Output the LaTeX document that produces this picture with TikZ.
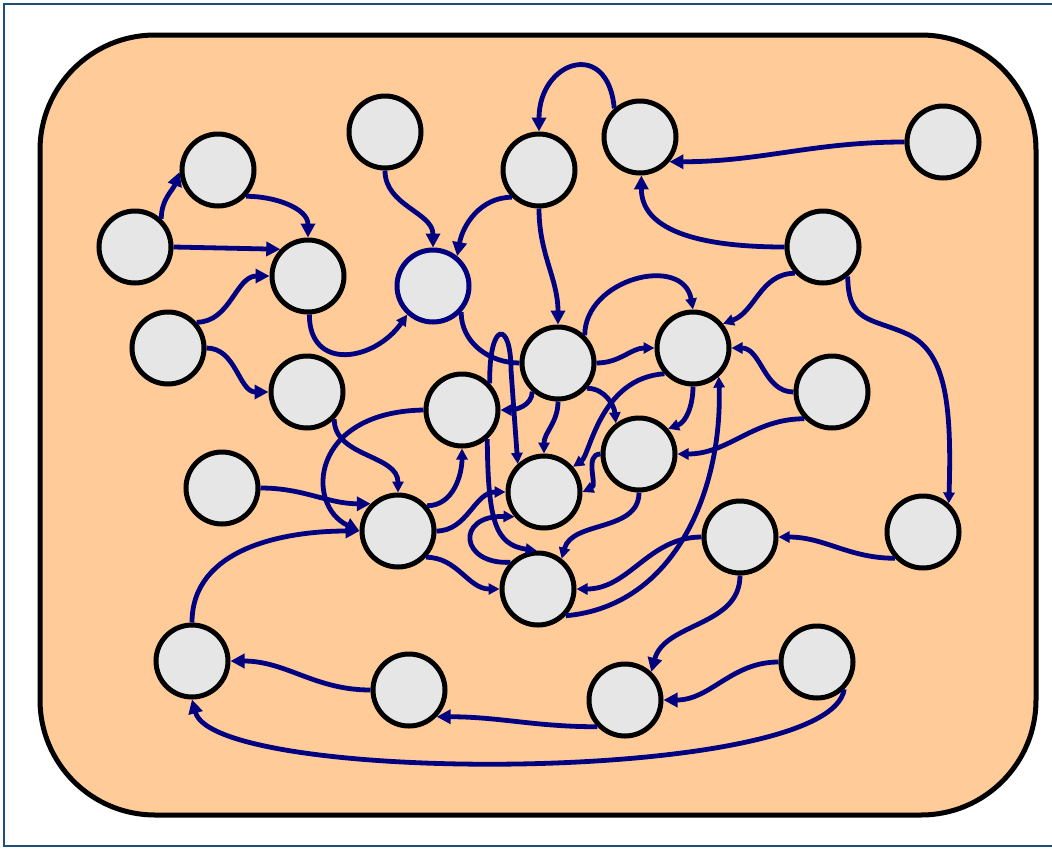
\documentclass[tikz,border=0pt]{standalone}
\usetikzlibrary{arrows.meta}
\definecolor{frameblue}{HTML}{1F4E79}
\definecolor{peach}{HTML}{FFCC99}
\definecolor{vgray}{HTML}{E6E6E6}
\definecolor{linknavy}{HTML}{000080}
\begin{document}
\begin{tikzpicture}[x=1pt,y=-1pt,
  vtx/.style={circle,draw=black,fill=vgray,line width=5pt,minimum size=72pt,inner sep=0pt},
  hub/.style={vtx,draw=linknavy},
  link/.style={draw=linknavy,line width=4.8pt},
  big/.style={link,-{Triangle[length=14pt,width=14pt]}},
  small/.style={link,-{Triangle[length=11pt,width=11pt]}}]
\useasboundingbox (0,0) rectangle (1052,849);
% outer frame and rounded panel
\draw[frameblue,line width=2.5pt] (4,4) rectangle (1070,846);
\draw[fill=peach,line width=5pt,rounded corners=115pt] (40,35) rectangle (1036,815);

% vertices
\node[vtx] (A) at (135,247) {};
\node[vtx] (B) at (218,170) {};
\node[vtx] (C) at (385,132) {};
\node[vtx] (D) at (539,170) {};
\node[vtx] (E) at (640,137) {};
\node[vtx] (F) at (943,142) {};
\node[vtx] (G) at (308,276) {};
\node[hub] (H) at (433,286) {};
\node[vtx] (I) at (168,348) {};
\node[vtx] (J) at (823,247) {};
\node[vtx] (K) at (558,363) {};
\node[vtx] (L) at (693,348) {};
\node[vtx] (M) at (307,392) {};
\node[vtx] (N) at (462,410) {};
\node[vtx] (O) at (832,392) {};
\node[vtx] (P) at (639,454) {};
\node[vtx] (Q) at (222,488) {};
\node[vtx] (R) at (544,492) {};
\node[vtx] (S) at (398,531) {};
\node[vtx] (T) at (740,537) {};
\node[vtx] (U) at (923,532) {};
\node[vtx] (V) at (538,589) {};
\node[vtx] (W) at (192,661) {};
\node[vtx] (X) at (409,690) {};
\node[vtx] (Y) at (625,700) {};
\node[vtx] (Z) at (817,662) {};

% upper left group
\draw[big] (A.47) to[out=90,in=250] (B.183);
\draw[big] (A.0) -- (G.136);
\draw[big] (B.-43) to[out=0,in=90] (G.90);
\draw[big] (I.42) to[out=0,in=180] (G.180);
\draw[big] (I.0) to[out=0,in=180] (M.180);
\draw[small] (G.-88) to[out=-90,in=-125,looseness=1.5] (H.-132);
\draw[big] (C.-90) to[out=-90,in=90] (H.90);
\draw[big] (D.-135) to[out=180,in=80] (H.51);
\draw[big] (D.-90) to[out=-90,in=90] (K.90);
\draw[big] (E.132) to[out=95,in=90,looseness=2.3] (D.90);
\draw[big] (F.180) to[out=180,in=0] (E.-40);
\draw[big] (J.180) to[out=180,in=-90] (E.-88);
\draw[link] (H.-43) to[out=-90,in=180] (K.180);

% right side
\draw[small] (J.-137) to[out=180,in=20] (L.39);
\draw[small] (J.-50) .. controls (848,322) and (870,318) .. (905,333)
   .. controls (945,350) and (952,400) .. (U.48);
\draw[small] (O.180) to[out=180,in=0] (L.0);
\draw[small] (O.-136) to[out=180,in=0] (P.0);
\draw[small] (U.-137) to[out=180,in=0] (T.0);

% central cluster
\draw[small] (K.0) to[out=0,in=180] (L.180);
\draw[small] (K.46) to[out=90,in=100,looseness=1.3] (L.90);
\draw[small] (K.-132) to[out=-90,in=0] (N.0);
\draw[small] (K.-90) to[out=-90,in=90] (R.90);
\draw[small] (K.-41) to[out=0,in=95] (P.127);
\draw[small] (L.-90) to[out=-90,in=20] (P.41);
\draw[small] (L.-138) .. controls (600,378) and (590,455) .. (R.41);
\draw[small] (P.180) to[out=180,in=25] (R.0);
\draw[small] (P.-90) to[out=-90,in=75] (V.52);
\draw[small] (T.180) to[out=180,in=0] (V.0);
\draw[small] (V.-44) to[out=5,in=-88] (L.-48);
\draw[small] (N.44) .. controls (489,320) and (511,320) .. (511,370) -- (R.133);
\draw[small] (N.-49) .. controls (488,520) and (495,545) .. (V.92);
\draw[small] (V.136) .. controls (460,565) and (455,515) .. (R.-140);

% around S
\draw[small] (M.-45) to[out=-90,in=90] (S.90);
\draw[big] (Q.0) to[out=0,in=180] (S.135);
\draw[big] (N.180) .. controls (310,412) and (305,505) .. (S.180);
\draw[big] (W.90) to[out=90,in=180] (S.180);
\draw[small] (S.41) to[out=0,in=-90] (N.-90);
\draw[small] (S.0) to[out=0,in=180] (R.180);
\draw[small] (S.-43) to[out=0,in=180] (V.180);

% bottom row
\draw[big] (T.-90) to[out=-90,in=75] (Y.47);
\draw[big] (Z.180) to[out=180,in=0] (Y.0);
\draw[big] (Z.-45) .. controls (830,785) and (215,785) .. (W.-90);
\draw[big] (Y.-136) to[out=180,in=0] (X.-44);
\draw[big] (X.180) to[out=180,in=0] (W.0);
\end{tikzpicture}
\end{document}
